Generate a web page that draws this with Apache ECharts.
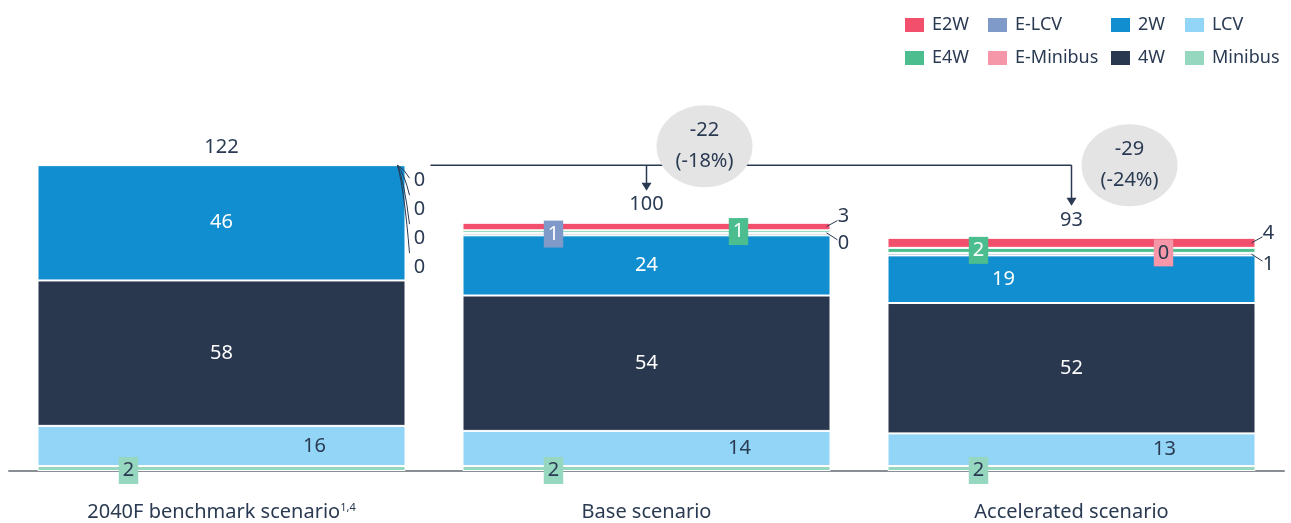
<!DOCTYPE html>
<html><head><meta charset="utf-8">
<script src="https://cdn.jsdelivr.net/npm/echarts/dist/echarts.min.js"></script>
<style>html,body{margin:0;padding:0;background:#fff}#c{width:1291px;height:523px}</style>
</head><body><div id="c"></div>
<script>
// ---- data ----
const categories = ['2040F benchmark scenario', 'Base scenario', 'Accelerated scenario'];
const minibus  = [2, 2, 2];
const lcv      = [16, 14, 13];
const fourW    = [58, 54, 52];
const twoW     = [46, 24, 19];
const eLcv     = [0, 1, 1];
const eMinibus = [0, 0, 0];
const e4w      = [0, 1, 2];
const e2w      = [0, 3, 4];
const totals   = [122, 100, 93];
const deltas   = ['-22', '-29'];
const deltaPcts = ['(-18%)', '(-24%)'];

// ---- styling ----
const FONT = '"Noto Sans"';
const TXT = '#2a3a52';
const seriesDefs = [
  { name: 'Minibus',   data: minibus,  color: '#95d7bf', modes: ['badgeL', 'badgeL', 'badgeL'], badgeText: TXT },
  { name: 'LCV',       data: lcv,      color: '#93d5f6', modes: ['offR', 'offR', 'offR'] },
  { name: '4W',        data: fourW,    color: '#29374f', modes: ['center', 'center', 'center'] },
  { name: '2W',        data: twoW,     color: '#108ecf', modes: ['center', 'center', 'offL'] },
  { name: 'E-LCV',     data: eLcv,     color: '#7f9ac8', modes: ['lead', 'badgeL', 'lead'], badgeText: '#fff' },
  { name: 'E-Minibus', data: eMinibus, color: '#f597a8', modes: ['lead', 'lead', 'badgeR'], badgeText: TXT },
  { name: 'E4W',       data: e4w,      color: '#4bbd8e', modes: ['lead', 'badgeR', 'badgeL'], badgeText: '#fff' },
  { name: 'E2W',       data: e2w,      color: '#f14f6b', modes: ['lead', 'lead', 'lead'] }
];

function labelFor(def, mode, val) {
  const base = { show: true, position: 'inside', fontFamily: FONT, fontSize: 20, formatter: String(val) };
  if (mode === 'center') return Object.assign(base, { color: '#fff' });
  if (mode === 'offL') return Object.assign(base, { color: '#fff', offset: [-68, 0] });
  if (mode === 'offR') return Object.assign(base, { color: TXT, offset: [93, 0] });
  if (mode === 'badgeL' || mode === 'badgeR') {
    return Object.assign(base, {
      color: def.badgeText, backgroundColor: def.color, padding: [4, 4, 3, 4],
      offset: [mode === 'badgeL' ? -93 : 92, def.name === 'Minibus' ? 2 : 0]
    });
  }
  return { show: false };
}

const series = seriesDefs.map(def => ({
  name: def.name, type: 'bar', stack: 'total', barWidth: 368,
  itemStyle: { color: def.color, borderColor: '#fff', borderWidth: 1 },
  emphasis: { disabled: true },
  data: def.data.map((v, i) => ({ value: v, label: labelFor(def, def.modes[i], v) }))
}));

const legendCols = [['E2W', 'E4W', 903], ['E-LCV', 'E-Minibus', 986], ['2W', '4W', 1109], ['LCV', 'Minibus', 1183]];
const legends = legendCols.map(c => ({
  data: [c[0], c[1]], orient: 'vertical', left: c[2], top: 16, padding: 0, itemWidth: 21, itemHeight: 16, itemGap: 15,
  icon: 'rect', selectedMode: false, textStyle: { fontFamily: FONT, fontSize: 18, color: TXT, padding: [0, 0, 0, 2] }
}));

const chart = echarts.init(document.getElementById('c'), null, { renderer: 'canvas' });
chart.setOption({
  animation: false,
  backgroundColor: '#fff',
  legend: legends,
  grid: { left: 9, right: 7, top: 120, bottom: 52, containLabel: false },
  xAxis: {
    type: 'category', data: categories,
    axisLine: { lineStyle: { color: '#8a8f96', width: 2 } },
    axisTick: { show: false },
    axisLabel: {
      interval: 0, hideOverlap: false,
      margin: 31, fontFamily: FONT, fontSize: 20, color: TXT,
      formatter: (v, i) => i === 0 ? v + '{sup|1,4}' : v,
      rich: { sup: { fontFamily: FONT, fontSize: 11, color: TXT, verticalAlign: 'top', padding: [0, 0, 10, 0] } }
    }
  },
  yAxis: { type: 'value', min: 0, max: 140, show: false, splitLine: { show: false } },
  series: series
});

// ---- annotations positioned via the chart's own scales ----
function px(i, v) { return chart.convertToPixel({ seriesIndex: 0 }, [i, v]); }
const halfBar = 184;
const g = [];
const cum = categories.map(() => 0);
const segMid = {};
seriesDefs.forEach(def => {
  segMid[def.name] = def.data.map((v, i) => { const m = px(i, cum[i] + v / 2)[1]; cum[i] += v; return m; });
});
function txt(x, y, s, extra) {
  return Object.assign({ type: 'text', x: x, y: y, z: 20, style: { text: s, fill: TXT, font: '20px ' + FONT, textAlign: 'center', textVerticalAlign: 'middle' } }, extra || {});
}
const topY = categories.map((c, i) => px(i, cum[i])[1]);
const cx = categories.map((c, i) => px(i, 0)[0]);

// totals
const totalY = [];
categories.forEach((c, i) => { totalY[i] = topY[i] - 18; g.push(txt(cx[i], totalY[i], String(totals[i]))); });

// leader labels
categories.forEach((c, i) => {
  const right = cx[i] + halfBar;
  const leads = seriesDefs.filter(d => d.modes[i] === 'lead').reverse();
  if (i === 0) {
    leads.forEach((d, k) => {
      const ly = topY[i] + 15 + k * 29;
      const ey = k === 0 ? ly - 2 : ly - 14;
      g.push({ type: 'bezierCurve', z: 20, shape: { x1: right - 8, y1: topY[i], x2: right + 4, y2: ey, cpx1: right - 1, cpy1: topY[i] + (ey - topY[i]) * 0.3 }, style: { stroke: TXT, lineWidth: 1, fill: null } });
      g.push(txt(right + 14, ly, String(d.data[i])));
    });
  } else {
    leads.forEach((d, k) => {
      const sy = segMid[d.name][i];
      const ly = k === 0 ? sy - 10 : sy + 10;
      g.push({ type: 'line', z: 20, shape: { x1: right - 4, y1: sy, x2: right + 7, y2: k === 0 ? ly + 4 : ly - 3 }, style: { stroke: TXT, lineWidth: 1 } });
      g.push(txt(right + 13, ly, String(d.data[i])));
    });
  }
});

// bracket and arrows
const y0 = px(0, totals[0])[1];
g.push({ type: 'line', z: 10, shape: { x1: cx[0] + halfBar + 25, y1: y0, x2: cx[2], y2: y0 }, style: { stroke: TXT, lineWidth: 1.5 } });
[1, 2].forEach(i => {
  const yEnd = totalY[i] - 14;
  g.push({ type: 'line', z: 10, shape: { x1: cx[i], y1: y0, x2: cx[i], y2: yEnd - 6 }, style: { stroke: TXT, lineWidth: 1.5 } });
  g.push({ type: 'polygon', z: 10, shape: { points: [[cx[i] - 5, yEnd - 8], [cx[i] + 5, yEnd - 8], [cx[i], yEnd]] }, style: { fill: TXT } });
});
// bubbles
const bubbleDy = [-19, 0];
[1, 2].forEach((i, k) => {
  const bx = cx[i] + 58, by = y0 + bubbleDy[k];
  g.push({ type: 'ellipse', z: 15, shape: { cx: bx, cy: by, rx: 48, ry: 41 }, style: { fill: '#e4e4e4' } });
  g.push(txt(bx, by - 16, deltas[k]));
  g.push(txt(bx, by + 15, deltaPcts[k]));
});
chart.setOption({ graphic: g });
</script>
</body></html>
